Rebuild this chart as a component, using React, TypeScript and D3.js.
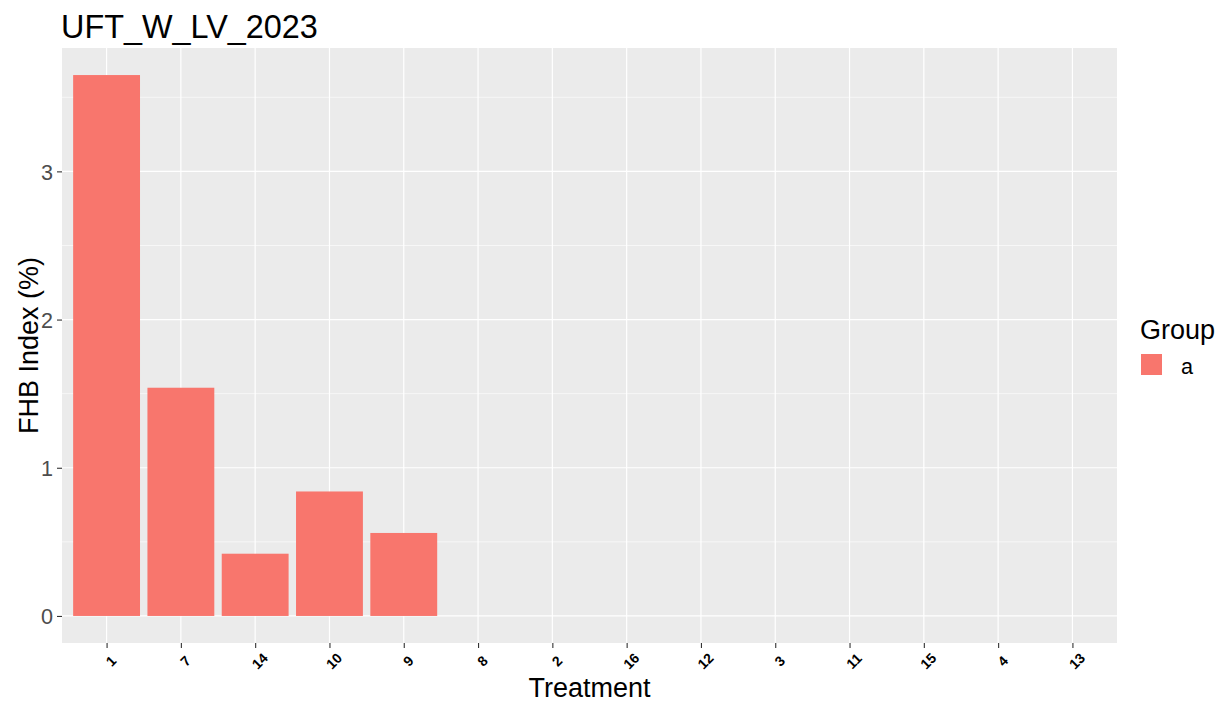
import React, { useEffect, useRef } from "react";
import * as d3 from "d3";

const treatments = ["1", "7", "14", "10", "9", "8", "2", "16", "12", "3", "11", "15", "4", "13"];
const fhbIndex = [3.65, 1.54, 0.42, 0.84, 0.56, 0, 0, 0, 0, 0, 0, 0, 0, 0];
const yTicks = [0, 1, 2, 3];
const yMinor = [0.5, 1.5, 2.5, 3.5];
const groups = ["a"];

const W = 1224;
const H = 702;
const FONT = "'Liberation Sans', Arial, sans-serif";

const App: React.FC = () => {
  const svgRef = useRef<SVGSVGElement>(null);

  useEffect(() => {
    if (!svgRef.current) return;
    const svg = d3.select(svgRef.current);
    svg.selectAll("*").remove();

    const panel = { left: 62, right: 1117, top: 48, bottom: 643 };

    // ggplot-style discrete scale: 0.6 unit expansion each side
    const n = treatments.length;
    const unit = (panel.right - panel.left) / (n - 1 + 1.2);
    const x = d3
      .scalePoint<string>()
      .domain(treatments)
      .range([panel.left + 0.6 * unit, panel.right - 0.6 * unit]);
    const barW = unit * 0.9;

    const maxV = d3.max(fhbIndex) || 0;
    const pad = maxV * 0.05;
    const y = d3
      .scaleLinear()
      .domain([-pad, maxV + pad])
      .range([panel.bottom, panel.top]);

    // panel background
    svg
      .append("rect")
      .attr("x", panel.left)
      .attr("y", panel.top)
      .attr("width", panel.right - panel.left)
      .attr("height", panel.bottom - panel.top)
      .attr("fill", "#EBEBEB");

    // grid
    const grid = svg.append("g");
    grid
      .selectAll("line.minor")
      .data(yMinor)
      .enter()
      .append("line")
      .attr("x1", panel.left)
      .attr("x2", panel.right)
      .attr("y1", d => y(d))
      .attr("y2", d => y(d))
      .attr("stroke", "#FFFFFF")
      .attr("stroke-width", 0.6);
    grid
      .selectAll("line.majorY")
      .data(yTicks)
      .enter()
      .append("line")
      .attr("x1", panel.left)
      .attr("x2", panel.right)
      .attr("y1", d => y(d))
      .attr("y2", d => y(d))
      .attr("stroke", "#FFFFFF")
      .attr("stroke-width", 1.2);
    grid
      .selectAll("line.majorX")
      .data(treatments)
      .enter()
      .append("line")
      .attr("x1", d => x(d)!)
      .attr("x2", d => x(d)!)
      .attr("y1", panel.top)
      .attr("y2", panel.bottom)
      .attr("stroke", "#FFFFFF")
      .attr("stroke-width", 1.2);

    // bars
    svg
      .append("g")
      .selectAll("rect")
      .data(treatments.map((t, i) => ({ t, v: fhbIndex[i] })).filter(d => d.v > 0))
      .enter()
      .append("rect")
      .attr("x", d => x(d.t)! - barW / 2)
      .attr("y", d => y(d.v))
      .attr("width", barW)
      .attr("height", d => y(0) - y(d.v))
      .attr("fill", "#F8766D");

    // y axis
    const yAxis = svg
      .append("g")
      .attr("transform", `translate(${panel.left},0)`)
      .call(d3.axisLeft(y).tickValues(yTicks).tickSize(5).tickPadding(4).tickFormat(d3.format("d")));
    yAxis.select(".domain").remove();
    yAxis.selectAll("line").attr("stroke", "#333333").attr("stroke-width", 1.1);
    yAxis
      .selectAll("text")
      .attr("fill", "#4D4D4D")
      .attr("dy", "0.36em")
      .style("font-family", FONT)
      .style("font-size", "21.6px");

    // x axis
    const xAxis = svg
      .append("g")
      .attr("transform", `translate(0,${panel.bottom})`)
      .call(d3.axisBottom(x).tickSize(5).tickPadding(0));
    xAxis.select(".domain").remove();
    xAxis.selectAll("line").attr("stroke", "#333333").attr("stroke-width", 1.1);
    xAxis
      .selectAll("text")
      .attr("y", 0)
      .attr("dy", 0)
      .attr("fill", "#000000")
      .attr("text-anchor", "middle")
      .attr("dominant-baseline", "central")
      .attr("transform", "translate(4,18) rotate(-45)")
      .style("font-family", FONT)
      .style("font-size", "14px")
      .style("font-weight", "bold");

    // title
    svg
      .append("text")
      .attr("x", 61)
      .attr("y", 38)
      .style("font-family", FONT)
      .style("font-size", "32.4px")
      .attr("fill", "#000")
      .text("UFT_W_LV_2023");

    // axis titles
    svg
      .append("text")
      .attr("x", (panel.left + panel.right) / 2)
      .attr("y", 697)
      .attr("text-anchor", "middle")
      .style("font-family", FONT)
      .style("font-size", "27px")
      .attr("fill", "#000")
      .text("Treatment");

    svg
      .append("text")
      .attr("transform", `translate(38,${(panel.top + panel.bottom) / 2}) rotate(-90)`)
      .attr("text-anchor", "middle")
      .style("font-family", FONT)
      .style("font-size", "27px")
      .attr("fill", "#000")
      .text("FHB Index (%)");

    // legend
    const legend = svg.append("g").attr("transform", "translate(1140,0)");
    legend
      .append("text")
      .attr("x", 0)
      .attr("y", 339)
      .style("font-family", FONT)
      .style("font-size", "27px")
      .attr("fill", "#000")
      .text("Group");
    groups.forEach((g, i) => {
      legend
        .append("rect")
        .attr("x", 1)
        .attr("y", 354 + i * 22)
        .attr("width", 21)
        .attr("height", 21)
        .attr("fill", "#F8766D");
      legend
        .append("text")
        .attr("x", 41)
        .attr("y", 374 + i * 22)
        .style("font-family", FONT)
        .style("font-size", "21.6px")
        .attr("fill", "#000")
        .text(g);
    });
  }, []);

  return (
    <svg
      ref={svgRef}
      width={W}
      height={H}
      style={{ position: "absolute", left: 0, top: 0, background: "#FFFFFF" }}
    />
  );
};

export default App;
